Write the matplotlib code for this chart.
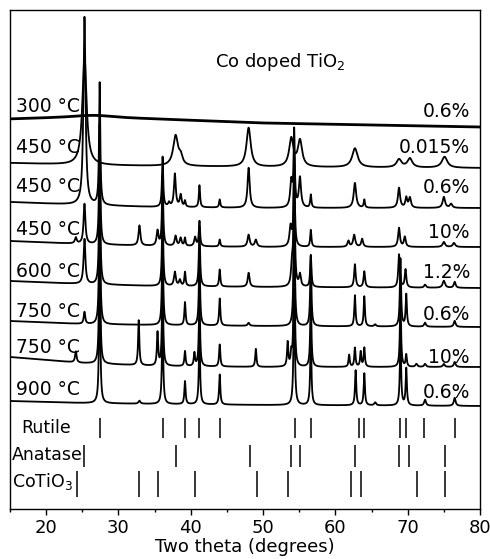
import matplotlib
matplotlib.use('Agg')
import matplotlib.pyplot as plt
from matplotlib.ticker import MultipleLocator
import numpy as np

plt.rcParams['font.family'] = 'DejaVu Sans'

# ---- data -------------------------------------------------------------
# background knots (2theta) and baseline level of every pattern (stacked)
bg_knots = [15, 25, 35, 50, 80]
bg_300_06 = [390, 392, 390, 386, 382]
bg_450_0015 = [346, 344, 343, 342, 341]
bg_450_06 = [307, 304, 302, 301, 301]
bg_450_10 = [268, 265, 263, 262, 262]
bg_600_12 = [228, 225, 223, 222, 221]
bg_750_06 = [188, 185, 184, 183, 182]
bg_750_10 = [152, 146, 143, 142, 142]
bg_900_06 = [108, 106, 105, 104, 103]

# peaks: (2theta, height, fwhm)
peaks_300_06 = [(27.0, 2, 6.0)]
peaks_450_0015 = [(25.3, 108, 0.7), (37.9, 30, 0.8), (38.6, 8, 0.6), (48.0, 39, 0.7),
                  (53.9, 28, 0.7), (55.1, 26, 0.7), (62.7, 19, 0.9), (68.8, 8, 0.8),
                  (70.3, 9, 0.8), (75.1, 11, 0.9)]
peaks_450_06 = [(25.3, 188, 0.35), (27.4, 122, 0.2), (36.1, 50, 0.2), (37.0, 4, 0.3),
                (37.8, 33, 0.3), (38.6, 12, 0.3), (39.2, 6, 0.2), (41.2, 22, 0.2),
                (44.0, 8, 0.2), (48.0, 40, 0.35), (53.9, 26, 0.35), (54.3, 75, 0.2),
                (55.1, 30, 0.35), (56.6, 13, 0.2), (62.7, 25, 0.4), (64.0, 8, 0.2),
                (68.8, 20, 0.35), (69.8, 10, 0.3), (70.3, 10, 0.35), (75.0, 11, 0.4),
                (76.0, 4, 0.4)]
peaks_450_10 = [(24.1, 6, 0.3), (25.3, 40, 0.3), (27.4, 120, 0.2), (32.9, 20, 0.3),
                (35.4, 15, 0.3), (36.1, 70, 0.2), (37.9, 10, 0.3), (38.6, 8, 0.3),
                (39.2, 8, 0.2), (40.6, 9, 0.3), (41.2, 25, 0.2), (44.0, 7, 0.2),
                (48.0, 12, 0.35), (49.0, 7, 0.35), (53.8, 20, 0.35), (54.3, 90, 0.2),
                (56.6, 17, 0.2), (61.8, 6, 0.3), (62.6, 12, 0.35), (63.7, 8, 0.3),
                (68.8, 19, 0.3), (69.6, 10, 0.3), (75.0, 5, 0.4), (76.4, 4, 0.4)]
peaks_600_12 = [(25.3, 45, 0.3), (27.4, 130, 0.2), (36.1, 80, 0.2), (37.8, 14, 0.3),
                (38.5, 6, 0.3), (39.2, 14, 0.2), (41.2, 60, 0.2), (44.0, 17, 0.2),
                (48.0, 14, 0.3), (54.0, 20, 0.3), (54.3, 130, 0.2), (55.1, 12, 0.3),
                (56.6, 32, 0.2), (62.7, 23, 0.25), (64.0, 16, 0.25), (68.8, 33, 0.25),
                (69.7, 18, 0.25), (72.4, 3, 0.3), (75.0, 7, 0.4), (76.5, 6, 0.3)]
peaks_750_06 = [(25.3, 12, 0.25), (27.4, 140, 0.2), (36.1, 90, 0.2), (39.2, 23, 0.2),
                (41.2, 70, 0.2), (44.0, 27, 0.2), (48.0, 3, 0.3), (54.3, 130, 0.2),
                (56.6, 70, 0.2), (62.7, 31, 0.2), (64.0, 30, 0.2), (65.5, 2, 0.3),
                (69.0, 68, 0.2), (69.8, 32, 0.2), (72.4, 4, 0.3), (76.5, 6, 0.3)]
peaks_750_10 = [(24.1, 11, 0.25), (27.4, 140, 0.2), (32.8, 45, 0.2), (35.4, 33, 0.2),
                (36.1, 90, 0.2), (39.2, 15, 0.2), (40.5, 13, 0.2), (41.2, 70, 0.2),
                (44.0, 22, 0.2), (49.0, 18, 0.2), (53.4, 24, 0.2), (53.9, 12, 0.2),
                (54.3, 130, 0.2), (56.6, 70, 0.2), (61.9, 12, 0.2), (62.7, 19, 0.2),
                (63.5, 15, 0.2), (64.0, 19, 0.2), (69.0, 67, 0.2), (69.8, 12, 0.2),
                (71.2, 3, 0.3), (72.4, 3, 0.3), (75.0, 3, 0.3), (76.5, 5, 0.3)]
peaks_900_06 = [(27.4, 140, 0.2), (32.9, 3, 0.3), (36.1, 90, 0.2), (39.2, 23, 0.2),
                (41.2, 70, 0.2), (44.0, 30, 0.2), (54.3, 130, 0.2), (56.6, 70, 0.2),
                (62.8, 35, 0.2), (64.0, 32, 0.2), (65.5, 3, 0.3), (69.0, 70, 0.2),
                (69.8, 37, 0.2), (72.4, 6, 0.3), (76.5, 8, 0.3)]

temp_labels = ['300 °C', '450 °C', '450 °C', '450 °C', '600 °C', '750 °C', '750 °C', '900 °C']
conc_labels = ['0.6%', '0.015%', '0.6%', '10%', '1.2%', '0.6%', '10%', '0.6%']

# reference line positions
rutile_pos = [27.4, 36.1, 39.2, 41.2, 44.0, 54.4, 56.6, 63.2, 64.0, 68.9, 69.7, 72.3, 76.5]
anatase_pos = [25.3, 38.0, 48.2, 53.9, 55.1, 62.7, 68.8, 70.2, 75.1]
cotio3_pos = [24.2, 32.9, 35.4, 40.6, 49.1, 53.5, 62.2, 63.6, 71.3, 75.2]

# ---- figure -----------------------------------------------------------
fig = plt.figure(figsize=(4.9, 5.59), dpi=100)
ax = fig.add_axes([10/490, 1 - 509/559, 470/490, 499/559])

tt = np.arange(15, 80.0001, 0.01)


def pattern(peaks, bg):
    y = np.interp(tt, bg_knots, bg)
    for pos, h, w in peaks:
        y = y + h / (1 + ((tt - pos) / (w / 2))**2)
    return y


traces = [(peaks_300_06, bg_300_06), (peaks_450_0015, bg_450_0015),
          (peaks_450_06, bg_450_06), (peaks_450_10, bg_450_10),
          (peaks_600_12, bg_600_12), (peaks_750_06, bg_750_06),
          (peaks_750_10, bg_750_10), (peaks_900_06, bg_900_06)]

for i, (pk, bg) in enumerate(traces):
    lw = 2.0 if i == 0 else 1.3
    ax.plot(tt, pattern(pk, bg), color='black', lw=lw, zorder=3 + i * 0.1)

# labels left / right
temp_y = [397, 356, 317, 274, 232, 192, 156, 114]
conc_y = [392, 356, 316, 271, 231, 189, 146, 111]
for lab, yy in zip(temp_labels, temp_y):
    ax.text(15.8, yy, lab, fontsize=13.5, ha='left', va='baseline', zorder=5)
for lab, yy in zip(conc_labels, conc_y):
    ax.text(78.6, yy, lab, fontsize=13.5, ha='right', va='baseline', zorder=5)

ax.text(43.4, 442, 'Co doped TiO$_2$', fontsize=13, ha='left', va='baseline')

# reference patterns
ax.vlines(rutile_pos, 71, 91, color='black', lw=1.1)
ax.vlines(anatase_pos, 42, 64, color='black', lw=1.1)
ax.vlines(cotio3_pos, 12, 38, color='black', lw=1.1)
ax.text(16.5, 76, 'Rutile', fontsize=12.5, ha='left', va='baseline')
ax.text(15.3, 49, 'Anatase', fontsize=12.5, ha='left', va='baseline')
ax.text(15.3, 22, 'CoTiO$_3$', fontsize=12.5, ha='left', va='baseline')

ax.set_xlim(15, 80)
ax.set_ylim(0, 499)
ax.set_yticks([])
ax.xaxis.set_major_locator(MultipleLocator(10))
ax.xaxis.set_minor_locator(MultipleLocator(5))
ax.tick_params(axis='x', which='major', direction='out', length=4, width=1,
               labelsize=13, pad=3)
ax.tick_params(axis='x', which='minor', direction='out', length=2.5, width=1)
for sp in ax.spines.values():
    sp.set_linewidth(1.0)
ax.set_xlabel('Two theta (degrees)', fontsize=13, labelpad=1)

fig.savefig('out.png', dpi=100, facecolor='white')
